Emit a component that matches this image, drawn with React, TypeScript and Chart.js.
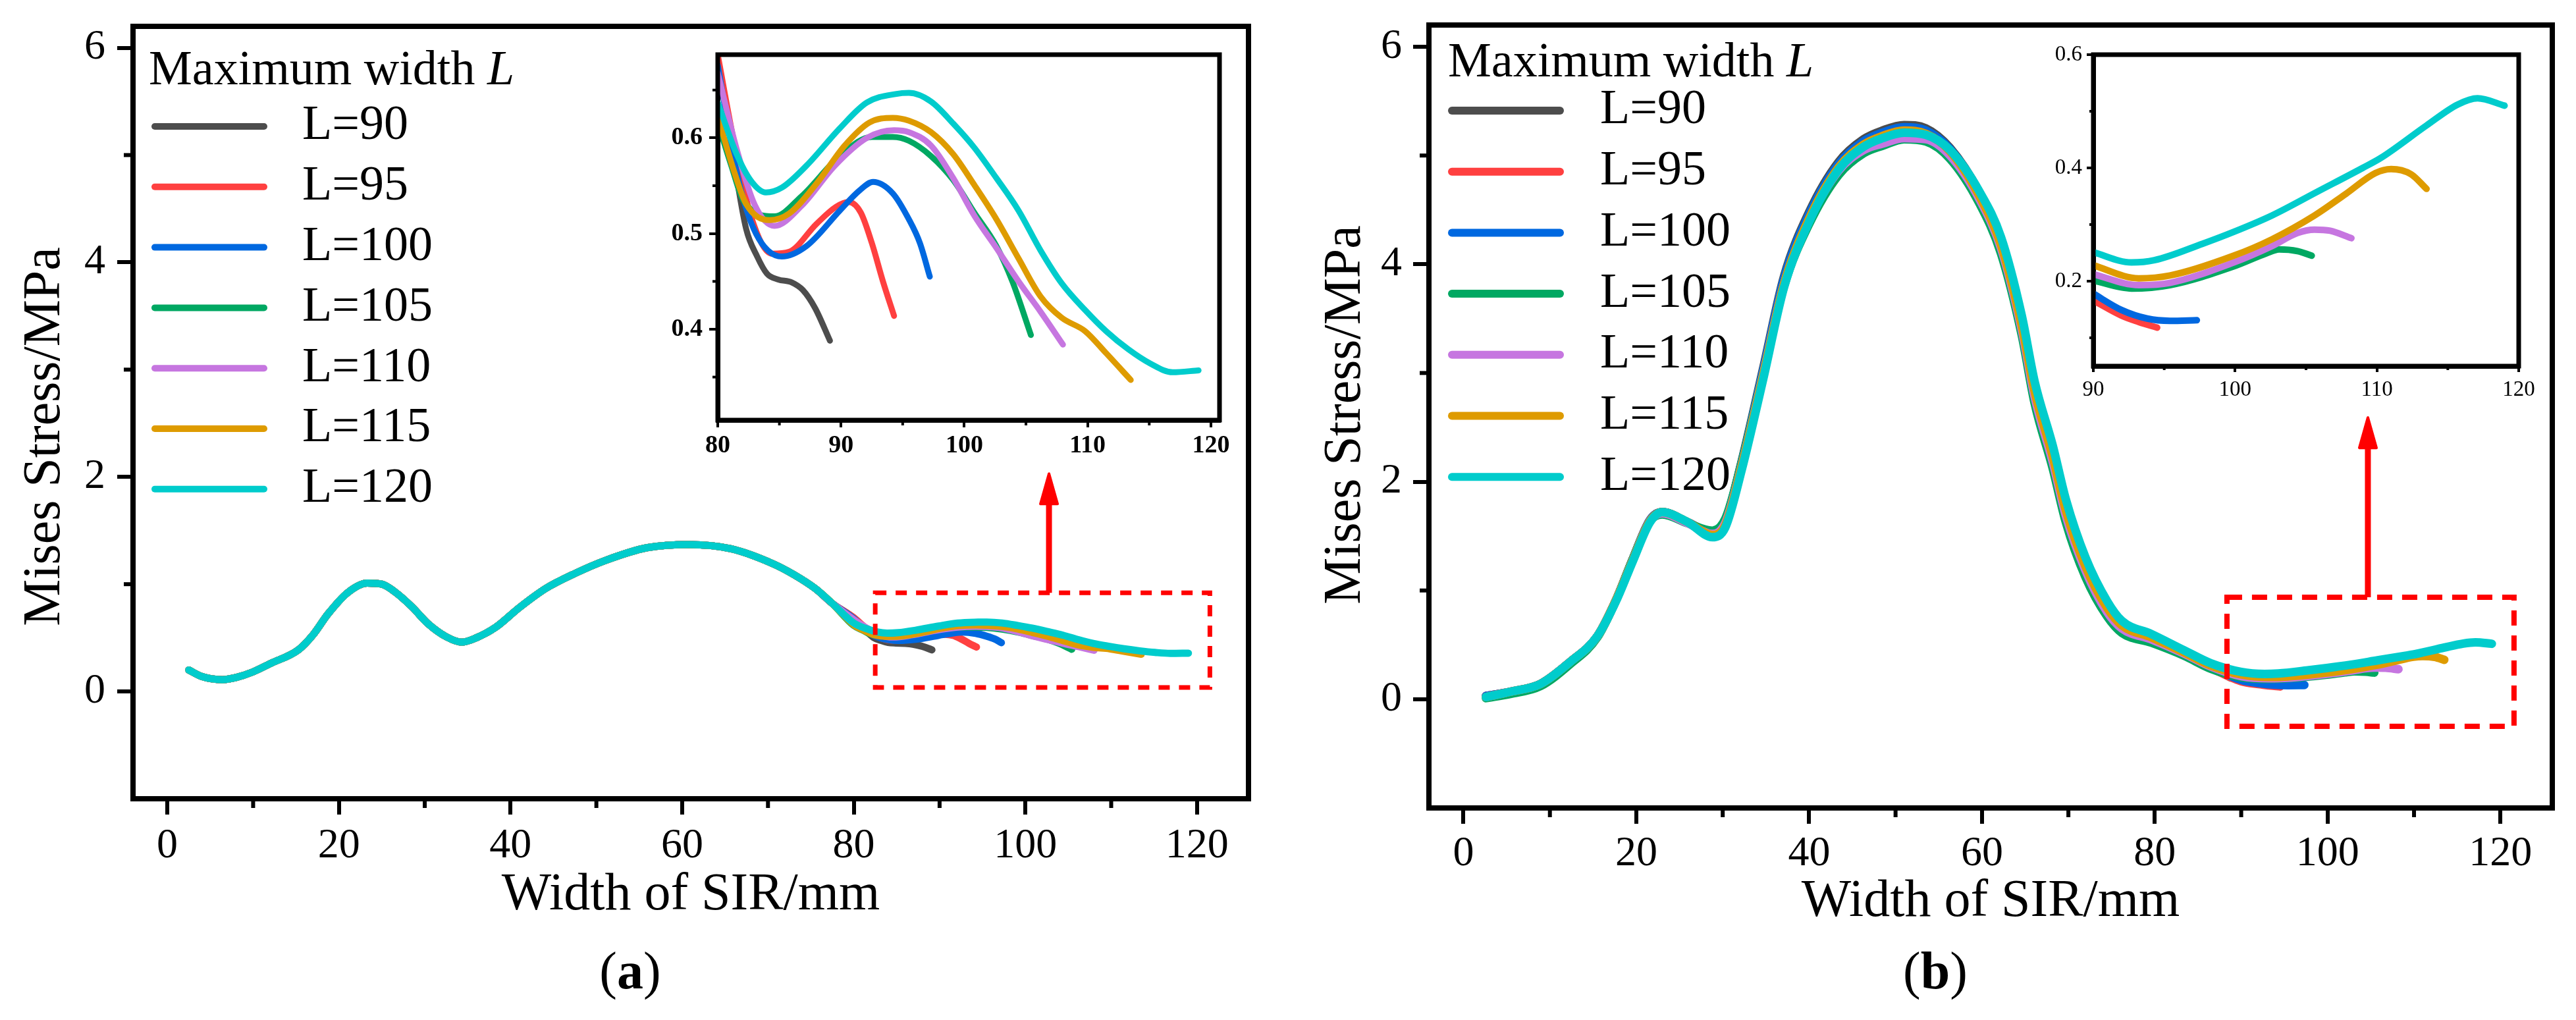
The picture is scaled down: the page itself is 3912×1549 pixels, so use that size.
import React, { useEffect, useRef } from 'react';
import { Chart, registerables } from 'chart.js';

Chart.register(...registerables);

const FONT = '"Liberation Serif", "Times New Roman", Times, serif';
const RED = '#ff0000';

const SERIES_LABELS = ['L=90', 'L=95', 'L=100', 'L=105', 'L=110', 'L=115', 'L=120'];
const SERIES_COLORS = ['#4d4d4d', '#ff4040', '#0068e0', '#00a862', '#c676e0', '#de9b00', '#00cccc'];

// ---------------- Panel (a) ----------------
const A_COMMON_X = [2.5, 4, 6.4, 8, 9.9, 12, 15.3, 17, 18.7, 21, 23.3, 25, 26.5, 28.5, 30.4, 32.5, 34.3, 36, 38.3, 41, 44.1, 47.5, 51, 55.9, 60.8, 65.7, 70.6, 73, 75.5, 77.5];
const A_COMMON_Y = [0.2, 0.14, 0.11, 0.13, 0.18, 0.26, 0.39, 0.53, 0.72, 0.92, 1.01, 1.0, 0.93, 0.79, 0.63, 0.51, 0.46, 0.5, 0.6, 0.78, 0.96, 1.1, 1.22, 1.34, 1.37, 1.33, 1.19, 1.09, 0.96, 0.82];

const A_L90_X = [80, 81.2, 82.3, 83.2, 84.0, 84.9, 86.0, 86.9, 87.9, 89.1];
const A_L90_Y = [0.681, 0.585, 0.505, 0.476, 0.458, 0.452, 0.449, 0.441, 0.422, 0.388];
const A_L95_X = [80, 81.3, 82.7, 84.4, 85.8, 88.0, 89.6, 90.6, 91.6, 92.5, 93.4, 94.3];
const A_L95_Y = [0.687, 0.597, 0.518, 0.479, 0.481, 0.51, 0.528, 0.533, 0.522, 0.49, 0.45, 0.414];
const A_L100_X = [80, 81.7, 83.1, 85.2, 87.2, 89.9, 91.5, 92.6, 94.2, 95.5, 96.4, 97.2];
const A_L100_Y = [0.676, 0.555, 0.5, 0.476, 0.487, 0.524, 0.545, 0.554, 0.542, 0.515, 0.49, 0.455];
const A_L105_X = [80, 81.1, 82.1, 84.6, 86.8, 89.9, 92.5, 94.2, 95.5, 97.3, 99.1, 100.8, 102.6, 103.9, 105.4];
const A_L105_Y = [0.616, 0.571, 0.534, 0.518, 0.539, 0.581, 0.601, 0.601, 0.597, 0.581, 0.556, 0.522, 0.487, 0.45, 0.394];
const A_L110_X = [80, 81.5, 83, 84.6, 86.8, 89.5, 92.1, 94.3, 95.5, 97.3, 99.1, 100.8, 102.6, 104.4, 106.2, 108.0];
const A_L110_Y = [0.668, 0.59, 0.53, 0.508, 0.529, 0.571, 0.6, 0.608, 0.606, 0.592, 0.558, 0.519, 0.485, 0.45, 0.418, 0.384];
const A_L115_X = [80, 81.3, 82.3, 84.2, 85.8, 88.0, 90.3, 92.3, 94.2, 95.5, 97.3, 99.1, 100.8, 102.6, 104.4, 106.2, 107.9, 109.8, 111.5, 113.5];
const A_L115_Y = [0.623, 0.566, 0.531, 0.514, 0.521, 0.552, 0.592, 0.616, 0.621, 0.618, 0.606, 0.583, 0.551, 0.515, 0.474, 0.434, 0.412, 0.398, 0.375, 0.347];
const A_L120_X = [80, 81.5, 82.7, 83.9, 85.2, 87.2, 89.9, 92.1, 94.5, 95.5, 97.3, 99.1, 100.8, 102.6, 104.4, 106.2, 107.9, 109.8, 111.5, 113.3, 115.1, 116.9, 119.0];
const A_L120_Y = [0.637, 0.584, 0.555, 0.543, 0.548, 0.571, 0.61, 0.637, 0.646, 0.647, 0.638, 0.615, 0.59, 0.558, 0.524, 0.482, 0.448, 0.42, 0.398, 0.379, 0.364, 0.355, 0.357];

const A_TAIL_X = [A_L90_X, A_L95_X, A_L100_X, A_L105_X, A_L110_X, A_L115_X, A_L120_X];
const A_TAIL_Y = [A_L90_Y, A_L95_Y, A_L100_Y, A_L105_Y, A_L110_Y, A_L115_Y, A_L120_Y];

// ---------------- Panel (b) ----------------
const B_X = [2.6, 5.5, 8.9, 12.3, 15.5, 17.7, 19.6, 21.6, 23.0, 25.9, 28.8, 30.3, 32.2, 34.7, 37.1, 40.0, 43.4, 46.3, 48.5, 51.0, 53.5, 56.3, 59.7, 62.2, 64.6, 66.1, 68.2, 69.7, 72.0, 74.5, 76.2, 79.6, 83.4, 86.5];
const B_L90_Y = [0.03, 0.07, 0.14, 0.34, 0.58, 0.92, 1.29, 1.65, 1.72, 1.63, 1.53, 1.64, 2.19, 3.05, 3.89, 4.48, 4.94, 5.15, 5.23, 5.28, 5.25, 5.07, 4.66, 4.21, 3.46, 2.85, 2.25, 1.76, 1.23, 0.85, 0.69, 0.57, 0.43, 0.3];
const B_L95_Y = [0.03, 0.07, 0.14, 0.34, 0.58, 0.92, 1.29, 1.65, 1.72, 1.63, 1.53, 1.63, 2.17, 3.02, 3.86, 4.45, 4.91, 5.12, 5.2, 5.25, 5.22, 5.05, 4.65, 4.2, 3.45, 2.84, 2.24, 1.75, 1.22, 0.84, 0.68, 0.56, 0.42, 0.29];
const B_L100_Y = [0.03, 0.07, 0.14, 0.34, 0.58, 0.92, 1.29, 1.65, 1.72, 1.63, 1.53, 1.64, 2.18, 3.03, 3.87, 4.46, 4.92, 5.13, 5.21, 5.26, 5.23, 5.06, 4.66, 4.21, 3.46, 2.85, 2.25, 1.76, 1.23, 0.85, 0.69, 0.57, 0.43, 0.3];
const B_L105_Y = [0.01, 0.05, 0.12, 0.32, 0.57, 0.92, 1.29, 1.64, 1.7, 1.62, 1.55, 1.66, 2.18, 3.0, 3.8, 4.37, 4.82, 5.02, 5.09, 5.15, 5.13, 4.97, 4.56, 4.1, 3.35, 2.72, 2.12, 1.63, 1.12, 0.76, 0.61, 0.52, 0.4, 0.28];
const B_L110_Y = [0.02, 0.07, 0.14, 0.34, 0.58, 0.92, 1.28, 1.64, 1.71, 1.62, 1.52, 1.62, 2.15, 2.99, 3.82, 4.4, 4.86, 5.05, 5.11, 5.16, 5.15, 5.0, 4.6, 4.15, 3.4, 2.78, 2.18, 1.69, 1.18, 0.8, 0.65, 0.55, 0.42, 0.3];
const B_L115_Y = [0.02, 0.07, 0.14, 0.34, 0.58, 0.92, 1.28, 1.64, 1.72, 1.63, 1.51, 1.6, 2.14, 2.98, 3.82, 4.42, 4.89, 5.1, 5.18, 5.23, 5.2, 5.04, 4.63, 4.18, 3.44, 2.83, 2.23, 1.74, 1.22, 0.84, 0.68, 0.57, 0.43, 0.31];
const B_L120_Y = [0.02, 0.07, 0.14, 0.34, 0.58, 0.91, 1.27, 1.63, 1.72, 1.63, 1.49, 1.58, 2.11, 2.95, 3.79, 4.39, 4.87, 5.08, 5.16, 5.21, 5.19, 5.05, 4.67, 4.25, 3.53, 2.92, 2.33, 1.84, 1.3, 0.9, 0.72, 0.6, 0.45, 0.33];
const B_MAIN_Y = [B_L90_Y, B_L95_Y, B_L100_Y, B_L105_Y, B_L110_Y, B_L115_Y, B_L120_Y];

const B_L90_TX = [88.8];
const B_L90_TY = [0.2];
const B_L95_TX = [90, 92.0, 93.2, 94.5];
const B_L95_TY = [0.166, 0.139, 0.128, 0.118];
const B_L100_TX = [90, 92.0, 93.8, 95.4, 97.3];
const B_L100_TY = [0.178, 0.149, 0.134, 0.13, 0.131];
const B_L105_TX = [90, 92.7, 95.4, 99.9, 102.2, 103.1, 104.4, 105.4];
const B_L105_TY = [0.201, 0.187, 0.193, 0.226, 0.249, 0.256, 0.253, 0.245];
const B_L110_TX = [90, 93.2, 95.4, 99.9, 102.6, 104.4, 105.6, 106.7, 108.2];
const B_L110_TY = [0.212, 0.193, 0.197, 0.233, 0.262, 0.285, 0.291, 0.289, 0.276];
const B_L115_TX = [90, 93.2, 95.4, 99.9, 102.6, 105.6, 107.8, 109.9, 111.0, 112.4, 113.5];
const B_L115_TY = [0.228, 0.205, 0.21, 0.245, 0.274, 0.316, 0.354, 0.391, 0.398, 0.389, 0.363];
const B_L120_TX = [90, 92.7, 94.3, 97.7, 99.9, 102.6, 105.8, 109.0, 110.3, 113.5, 115.7, 117.1, 119.0];
const B_L120_TY = [0.251, 0.233, 0.237, 0.266, 0.287, 0.316, 0.358, 0.4, 0.418, 0.475, 0.512, 0.523, 0.51];
const B_TAIL_X = [B_L90_TX, B_L95_TX, B_L100_TX, B_L105_TX, B_L110_TX, B_L115_TX, B_L120_TX];
const B_TAIL_Y = [B_L90_TY, B_L95_TY, B_L100_TY, B_L105_TY, B_L110_TY, B_L115_TY, B_L120_TY];

// ---------------- ticks ----------------
const MAIN_XTICKS = [0, 20, 40, 60, 80, 100, 120];
const MAIN_XMINOR = [10, 30, 50, 70, 90, 110];
const MAIN_YTICKS = [0, 2, 4, 6];
const MAIN_YMINOR = [1, 3, 5];
const A_IN_XTICKS = [80, 90, 100, 110, 120];
const A_IN_XMINOR = [85, 95, 105, 115];
const A_IN_YTICKS = [0.4, 0.5, 0.6];
const A_IN_YMINOR = [0.35, 0.45, 0.55, 0.65];
const B_IN_XTICKS = [90, 100, 110, 120];
const B_IN_XMINOR = [95, 105, 115];
const B_IN_YTICKS = [0.2, 0.4, 0.6];
const B_IN_YMINOR = [0.1, 0.3, 0.5];

const X_TITLE = 'Width of SIR/mm';
const Y_TITLE = 'Mises Stress/MPa';
const LEGEND_TITLE = 'Maximum width ';
const LEGEND_TITLE_VAR = 'L';

// zoom-box annotations (data units)
const A_BOX = { x0: 82.5, x1: 121.5, y0: 0.037, y1: 0.92 };
const A_ARROW = { x: 102.75, y0: 0.92, y1: 2.03 };
const B_BOX = { x0: 88.35, x1: 121.57, y0: -0.249, y1: 0.938 };
const B_ARROW = { x: 104.66, y0: 0.938, y1: 2.59 };

type Rect = { x: number; y: number; w: number; h: number };
type Area = { left: number; top: number; right: number; bottom: number };

function zip(xs: number[], ys: number[]) {
  return xs.map((x, i) => ({ x, y: ys[i] }));
}

function makeAxis(pos: 'bottom' | 'left', s: any, fixed: number) {
  return {
    type: 'linear',
    position: pos,
    min: s.min,
    max: s.max,
    afterBuildTicks: (sc: any) => {
      sc.ticks = s.ticks.map((v: number) => ({ value: v }));
    },
    afterFit: (sc: any) => {
      if (pos === 'bottom') sc.height = fixed;
      else sc.width = fixed;
    },
    ticks: {
      autoSkip: false,
      maxRotation: 0,
      minRotation: 0,
      padding: s.pad,
      color: '#000',
      font: s.font,
      callback: (v: any) => s.fmt(Number(v)),
    },
    grid: {
      display: true,
      drawOnChartArea: false,
      drawTicks: true,
      tickLength: s.tl,
      tickWidth: s.tw,
      lineWidth: s.tw,
      tickColor: '#000',
      color: '#000',
    },
    border: { display: true, width: s.border, color: '#000' },
    title: s.title
      ? {
          display: true,
          text: s.title.text,
          color: '#000',
          font: { family: FONT, size: s.title.size, lineHeight: 1 },
          padding: { top: 0, bottom: s.title.pad },
        }
      : { display: false },
  };
}

function decor(spec: any) {
  return {
    id: 'decor',
    afterDatasetsDraw(chart: any) {
      const { ctx, chartArea: a } = chart;
      const sx = chart.scales.x;
      const sy = chart.scales.y;
      const ox = spec.rect.x;
      const oy = spec.rect.y;
      ctx.save();
      // minor ticks
      ctx.strokeStyle = '#000';
      ctx.lineWidth = spec.minorW;
      ctx.lineCap = 'butt';
      for (const v of spec.xMinor) {
        const p = sx.getPixelForValue(v);
        ctx.beginPath();
        ctx.moveTo(p, a.bottom);
        ctx.lineTo(p, a.bottom + spec.minorLen);
        ctx.stroke();
      }
      for (const v of spec.yMinor) {
        const p = sy.getPixelForValue(v);
        ctx.beginPath();
        ctx.moveTo(a.left, p);
        ctx.lineTo(a.left - spec.minorLen, p);
        ctx.stroke();
      }
      // frame
      ctx.lineWidth = spec.frame;
      ctx.lineJoin = 'miter';
      ctx.strokeRect(a.left, a.top, a.right - a.left, a.bottom - a.top);
      // dashed zoom box
      if (spec.box) {
        const b = spec.box;
        const x0 = sx.getPixelForValue(b.x0);
        const x1 = sx.getPixelForValue(b.x1);
        const y0 = sy.getPixelForValue(b.y0);
        const y1 = sy.getPixelForValue(b.y1);
        ctx.strokeStyle = RED;
        ctx.lineWidth = spec.boxW;
        ctx.setLineDash(spec.boxDash);
        ctx.strokeRect(x0, y1, x1 - x0, y0 - y1);
        ctx.setLineDash([]);
      }
      // arrow
      if (spec.arrow) {
        const ar = spec.arrow;
        const px = sx.getPixelForValue(ar.x);
        const pb = sy.getPixelForValue(ar.y0);
        const pt = sy.getPixelForValue(ar.y1);
        ctx.strokeStyle = RED;
        ctx.fillStyle = RED;
        ctx.lineWidth = spec.arrowShaft;
        ctx.lineCap = 'butt';
        ctx.beginPath();
        ctx.moveTo(px, pb);
        ctx.lineTo(px, pt + spec.arrowHeadLen - 2);
        ctx.stroke();
        ctx.beginPath();
        ctx.moveTo(px, pt);
        ctx.lineTo(px - spec.arrowHeadHalf, pt + spec.arrowHeadLen);
        ctx.lineTo(px + spec.arrowHeadHalf, pt + spec.arrowHeadLen);
        ctx.closePath();
        ctx.lineJoin = 'round';
        ctx.lineWidth = 4;
        ctx.fill();
        ctx.stroke();
      }
      // legend
      if (spec.legend) {
        const L = spec.legend;
        ctx.fillStyle = '#000';
        ctx.textAlign = 'left';
        ctx.textBaseline = 'alphabetic';
        ctx.font = `${L.size}px ${FONT}`;
        ctx.fillText(LEGEND_TITLE, L.titleX - ox, L.titleY - oy);
        const tw = ctx.measureText(LEGEND_TITLE).width;
        ctx.font = `italic ${L.size}px ${FONT}`;
        ctx.fillText(LEGEND_TITLE_VAR, L.titleX - ox + tw, L.titleY - oy);
        ctx.font = `${L.size}px ${FONT}`;
        ctx.textBaseline = 'middle';
        SERIES_LABELS.forEach((lab, i) => {
          const y = L.firstY + i * L.step - oy;
          ctx.strokeStyle = SERIES_COLORS[i];
          ctx.lineWidth = L.lineW;
          ctx.lineCap = 'round';
          ctx.beginPath();
          ctx.moveTo(L.x1 - ox, y);
          ctx.lineTo(L.x2 - ox, y);
          ctx.stroke();
          ctx.fillText(lab, L.textX - ox, y);
        });
      }
      // y title
      if (spec.yTitle) {
        const t = spec.yTitle;
        ctx.save();
        ctx.translate(t.x - ox, t.y - oy);
        ctx.rotate(-Math.PI / 2);
        ctx.fillStyle = '#000';
        ctx.font = `${t.size}px ${FONT}`;
        ctx.textAlign = 'center';
        ctx.textBaseline = 'middle';
        ctx.fillText(Y_TITLE, 0, 0);
        ctx.restore();
      }
      ctx.restore();
    },
  };
}

function createChart(canvas: HTMLCanvasElement, spec: any) {
  const r: Rect = spec.rect;
  const a: Area = spec.area;
  const yW = a.left - r.x;
  const padding = {
    left: 0,
    top: a.top - r.y,
    right: r.x + r.w - a.right,
    bottom: r.y + r.h - a.bottom - spec.xH,
  };
  const datasets = spec.series.map((s: any, i: number) => ({
    label: SERIES_LABELS[i],
    data: zip(s.xs, s.ys),
    borderColor: SERIES_COLORS[i],
    backgroundColor: SERIES_COLORS[i],
    borderWidth: spec.lineW,
    pointRadius: 0,
    pointHoverRadius: 0,
    cubicInterpolationMode: 'monotone',
    fill: false,
    borderCapStyle: 'round',
    borderJoinStyle: 'round',
    order: 6 - i,
  }));
  return new Chart(canvas, {
    type: 'line',
    data: { datasets },
    options: {
      animation: false,
      responsive: false,
      maintainAspectRatio: false,
      devicePixelRatio: 1,
      events: [],
      layout: { padding, autoPadding: false },
      plugins: { legend: { display: false }, tooltip: { enabled: false }, title: { display: false } },
      scales: {
        x: makeAxis('bottom', spec.x, spec.xH),
        y: makeAxis('left', spec.y, yW),
      },
    } as any,
    plugins: [decor(spec)],
  } as any);
}

const mainFont = { family: FONT, size: 64 };
const fmtInt = (v: number) => String(Math.round(v));
const fmt1 = (v: number) => v.toFixed(1);

const SPEC_A_MAIN = {
  rect: { x: 0, y: -100, w: 1950, h: 1749 },
  area: { left: 202, top: 40, right: 1896, bottom: 1213 },
  xH: 200,
  lineW: 11,
  series: A_TAIL_X.map((tx, i) => ({ xs: [...A_COMMON_X, ...tx], ys: [...A_COMMON_Y, ...A_TAIL_Y[i]] })),
  x: { min: -4, max: 126, ticks: MAIN_XTICKS, fmt: fmtInt, font: mainFont, tl: 24, tw: 6, pad: 10, border: 8, title: { text: X_TITLE, size: 80, pad: 13 } },
  y: { min: -1, max: 6.2, ticks: MAIN_YTICKS, fmt: fmtInt, font: mainFont, tl: 24, tw: 6, pad: 18, border: 8 },
  xMinor: MAIN_XMINOR,
  yMinor: MAIN_YMINOR,
  minorLen: 14,
  minorW: 6,
  frame: 8,
  box: A_BOX,
  boxW: 7,
  boxDash: [17, 14],
  arrow: A_ARROW,
  arrowShaft: 9,
  arrowHeadHalf: 13,
  arrowHeadLen: 46,
  legend: { titleX: 226, titleY: 128, firstY: 192, step: 91.8, x1: 235, x2: 401, textX: 459, size: 74, lineW: 10 },
  yTitle: { x: 69, y: 663, size: 80 },
};

const SPEC_A_INSET = {
  rect: { x: 950, y: -20, w: 960, h: 780 },
  area: { left: 1090, top: 83, right: 1852, bottom: 638 },
  xH: 80,
  lineW: 9,
  series: A_TAIL_X.map((tx, i) => ({ xs: tx, ys: A_TAIL_Y[i] })),
  x: { min: 80, max: 120.7, ticks: A_IN_XTICKS, fmt: fmtInt, font: { family: FONT, size: 38, weight: 'bold' }, tl: 11, tw: 4, pad: 5, border: 7 },
  y: { min: 0.305, max: 0.687, ticks: A_IN_YTICKS, fmt: fmt1, font: { family: FONT, size: 38, weight: 'bold' }, tl: 13, tw: 4, pad: 10, border: 7 },
  xMinor: A_IN_XMINOR,
  yMinor: A_IN_YMINOR,
  minorLen: 8,
  minorW: 4,
  frame: 7,
};

const SPEC_B_MAIN = {
  rect: { x: 1950, y: -100, w: 1962, h: 1749 },
  area: { left: 2170, top: 38, right: 3876, bottom: 1227 },
  xH: 200,
  lineW: 13,
  series: B_TAIL_X.map((tx, i) => ({ xs: [...B_X, ...tx], ys: [...B_MAIN_Y[i], ...B_TAIL_Y[i]] })),
  x: { min: -4, max: 126, ticks: MAIN_XTICKS, fmt: fmtInt, font: mainFont, tl: 24, tw: 6, pad: 8, border: 8, title: { text: X_TITLE, size: 80, pad: 17 } },
  y: { min: -1, max: 6.2, ticks: MAIN_YTICKS, fmt: fmtInt, font: mainFont, tl: 24, tw: 6, pad: 17, border: 8 },
  xMinor: MAIN_XMINOR,
  yMinor: MAIN_YMINOR,
  minorLen: 14,
  minorW: 6,
  frame: 8,
  box: B_BOX,
  boxW: 8,
  boxDash: [23, 15],
  arrow: B_ARROW,
  arrowShaft: 9,
  arrowHeadHalf: 13,
  arrowHeadLen: 46,
  legend: { titleX: 2199, titleY: 116, firstY: 168, step: 92.7, x1: 2205, x2: 2369, textX: 2430, size: 74, lineW: 12 },
  yTitle: { x: 2044, y: 630, size: 80 },
};

const SPEC_B_INSET = {
  rect: { x: 3040, y: -20, w: 850, h: 700 },
  area: { left: 3179, top: 83, right: 3825, bottom: 556 },
  xH: 80,
  lineW: 10,
  series: B_TAIL_X.map((tx, i) => ({ xs: tx, ys: B_TAIL_Y[i] })),
  x: { min: 90, max: 120, ticks: B_IN_XTICKS, fmt: fmtInt, font: { family: FONT, size: 33 }, tl: 9, tw: 4, pad: 8, border: 7 },
  y: { min: 0.05, max: 0.6, ticks: B_IN_YTICKS, fmt: fmt1, font: { family: FONT, size: 33 }, tl: 10, tw: 4, pad: 7, border: 7 },
  xMinor: B_IN_XMINOR,
  yMinor: B_IN_YMINOR,
  minorLen: 6,
  minorW: 4,
  frame: 7,
};

const SPECS = [SPEC_A_MAIN, SPEC_A_INSET, SPEC_B_MAIN, SPEC_B_INSET];

export default function App() {
  const refs = [useRef<HTMLCanvasElement>(null), useRef<HTMLCanvasElement>(null), useRef<HTMLCanvasElement>(null), useRef<HTMLCanvasElement>(null)];
  useEffect(() => {
    const charts = SPECS.map((s, i) => createChart(refs[i].current as HTMLCanvasElement, s));
    return () => charts.forEach((c) => c.destroy());
  }, []);
  const cap = (cx: number, letter: string) => (
    <div
      style={{
        position: 'absolute',
        left: cx - 150,
        width: 300,
        top: 1434,
        textAlign: 'center',
        fontFamily: FONT,
        fontSize: 80,
        lineHeight: '80px',
        color: '#000',
      }}
    >
      (<b>{letter}</b>)
    </div>
  );
  return (
    <div style={{ position: 'absolute', left: 0, top: 0, width: 3912, height: 1549, overflow: 'hidden', background: '#fff' }}>
      {SPECS.map((s, i) => (
        <canvas
          key={i}
          ref={refs[i]}
          width={s.rect.w}
          height={s.rect.h}
          style={{ position: 'absolute', left: s.rect.x, top: s.rect.y, width: s.rect.w, height: s.rect.h }}
        />
      ))}
      {cap(957, 'a')}
      {cap(2939, 'b')}
    </div>
  );
}
